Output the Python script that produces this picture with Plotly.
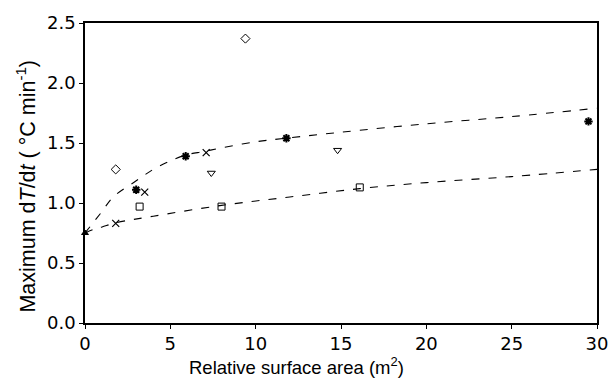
import plotly.graph_objects as go

# Data
diamond_x = [1.8, 9.4]
diamond_y = [1.28, 2.37]
star_x = [3.0, 5.9, 11.8, 29.5]
star_y = [1.11, 1.39, 1.54, 1.68]
cross_x = [1.8, 3.5, 7.1]
cross_y = [0.83, 1.09, 1.42]
tridown_x = [7.4, 14.8]
tridown_y = [1.25, 1.44]
square_x = [3.2, 8.0, 16.1]
square_y = [0.97, 0.97, 1.13]
origin_x = [0.0]
origin_y = [0.75]

# Fitted dashed curves
upper_x = [0, 0.5, 1, 1.65, 3, 4, 5, 5.9, 7, 8, 10, 11.8, 15, 20, 25, 30]
upper_y = [0.75, 0.84, 0.93, 1.05, 1.185, 1.28, 1.35, 1.40, 1.43, 1.46, 1.51, 1.54, 1.59, 1.66, 1.72, 1.79]
lower_x = [0, 0.5, 1, 1.8, 4, 8, 12, 16.1, 20, 25, 30]
lower_y = [0.75, 0.78, 0.80, 0.835, 0.89, 0.98, 1.05, 1.12, 1.17, 1.22, 1.28]

x_ticks = [0, 5, 10, 15, 20, 25, 30]
y_ticks = [0.0, 0.5, 1.0, 1.5, 2.0, 2.5]

TITLE_FONT = "Liberation Sans, Arial, Helvetica, sans-serif"
TICK_FONT = "DejaVu Sans, Verdana, sans-serif"
fig = go.Figure()

dash = dict(color="black", width=1.1, dash="8px,9px")
fig.add_trace(go.Scatter(x=upper_x, y=upper_y, mode="lines", line=dict(shape="spline", **dash), hoverinfo="skip"))
fig.add_trace(go.Scatter(x=lower_x, y=lower_y, mode="lines", line=dict(shape="spline", **dash), hoverinfo="skip"))

def mk(x, y, symbol, size, lw=1):
    fig.add_trace(go.Scatter(x=x, y=y, mode="markers", cliponaxis=False,
                             marker=dict(symbol=symbol, size=size, color="black",
                                         line=dict(color="black", width=lw))))

mk(diamond_x, diamond_y, "diamond-open", 7)
mk(star_x, star_y, "asterisk-open", 7, 2)
mk(cross_x, cross_y, "x-thin-open", 7, 1.2)
mk(tridown_x, tridown_y, "triangle-down-open", 7)
mk(square_x, square_y, "square-open", 7)
mk(origin_x, origin_y, "triangle-up", 6)

axis_common = dict(showline=True, linecolor="black", linewidth=1.5, mirror=True,
                   showgrid=False, zeroline=False, ticks="outside", ticklen=4,
                   tickcolor="black", automargin=False,
                   tickfont=dict(family=TICK_FONT, size=18, color="black"))

fig.update_xaxes(range=[0, 30], tickvals=x_ticks, ticktext=[str(v) for v in x_ticks],
                 **axis_common)
fig.update_yaxes(range=[0, 2.5], tickvals=y_ticks, ticktext=[f"{v:.1f}" for v in y_ticks],
                 **axis_common)

fig.add_annotation(text="Relative surface area (m<sup>2</sup>)", xref="paper", yref="paper",
                   x=0.414, y=-0.143, xanchor="center", yanchor="middle", showarrow=False,
                   font=dict(family=TITLE_FONT, size=18.5, color="black"))
fig.add_annotation(text="Maximum d<i>T</i>/d<i>t</i> ( °C min<sup>-1</sup>)", xref="paper", yref="paper",
                   x=-0.115, y=0.455, xanchor="center", yanchor="middle", showarrow=False,
                   textangle=-90, font=dict(family=TITLE_FONT, size=21.5, color="black"))

fig.update_layout(width=613, height=378, showlegend=False,
                  margin=dict(l=85, r=16, t=23, b=55),
                  plot_bgcolor="white", paper_bgcolor="white",
                  font=dict(family=TITLE_FONT, color="black"))

fig.write_html("out.html", config={"displayModeBar": False},
               post_script="document.body.style.margin='0';document.body.style.padding='0';document.body.style.overflow='hidden';")
